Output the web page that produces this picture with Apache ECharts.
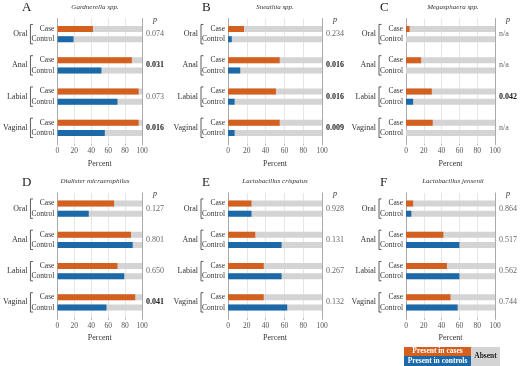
<!DOCTYPE html>
<html>
<head>
<meta charset="utf-8">
<script src="https://cdn.jsdelivr.net/npm/echarts@6/dist/echarts.min.js"></script>
<style>
  html, body { margin: 0; padding: 0; background: #fff; }
  #chart { width: 520px; height: 366px; }
</style>
</head>
<body>
<div id="chart"></div>
<script>
  // 数据
  var sites = ['Oral', 'Anal', 'Labial', 'Vaginal'];
  var letters = ['A', 'B', 'C', 'D', 'E', 'F'];
  var species = ['Gardnerella spp.', 'Sneathia spp.', 'Megasphaera spp.',
    'Dialister micraerophilus', 'Lactobacillus crispatus', 'Lactobacillus jensenii'];
  var caseA = [42, 88, 96, 96], ctrlA = [19, 52, 71, 56];
  var caseB = [17, 55, 51, 55], ctrlB = [4, 13, 7, 7];
  var caseC = [4, 17, 29, 30], ctrlC = [0, 0, 8, 0];
  var caseD = [67, 87, 71, 92], ctrlD = [37, 89, 79, 58];
  var caseE = [25, 29, 38, 38], ctrlE = [25, 57, 57, 63];
  var caseF = [8, 42, 46, 50], ctrlF = [6, 60, 60, 58];
  var pA = ['0.074', '0.031', '0.073', '0.016'];
  var pB = ['0.234', '0.016', '0.016', '0.009'];
  var pC = ['n/a', 'n/a', '0.042', 'n/a'];
  var pD = ['0.127', '0.801', '0.650', '0.041'];
  var pE = ['0.928', '0.131', '0.267', '0.132'];
  var pF = ['0.864', '0.517', '0.562', '0.744'];

  var caseData = [caseA, caseB, caseC, caseD, caseE, caseF];
  var ctrlData = [ctrlA, ctrlB, ctrlC, ctrlD, ctrlE, ctrlF];
  var pData = [pA, pB, pC, pD, pE, pF];

  var ORANGE = '#d4601f', BLUE = '#1b69a8', GRAY = '#d4d4d4';
  var FONT = 'Liberation Serif';
  var lefts = [48, 228, 406], tops = [18.5, 193];

  var grid = [], xAxis = [], yAxis = [], series = [], title = [];

  for (var k = 0; k < 6; k++) {
    var L = lefts[k % 3], T = tops[Math.floor(k / 3)];
    grid.push({ left: L, top: T, width: 94, height: 125 });
    title.push({
      text: letters[k], left: L - 26, top: T - 17, padding: 0,
      textStyle: { fontFamily: FONT, fontSize: 13, fontWeight: 'normal', color: '#222' }
    });
    title.push({
      text: species[k], left: L + 47, top: T - 15, padding: 0, textAlign: 'center',
      textStyle: { fontFamily: FONT, fontSize: 7, fontStyle: 'italic', fontWeight: 'normal', color: '#333' }
    });
    xAxis.push({
      gridIndex: k, type: 'value', min: 0, max: 100, interval: 20,
      name: 'Percent', nameLocation: 'middle', nameGap: 16,
      nameTextStyle: { fontFamily: FONT, fontSize: 8, color: '#333' },
      axisLine: { show: false },
      axisTick: { show: true, length: 2, lineStyle: { color: '#bbb' } },
      axisLabel: { fontFamily: FONT, fontSize: 7.5, color: '#555', margin: 4 },
      splitLine: { lineStyle: { color: '#e6e6e6', width: 1 } }
    });
    // Case / Control 标签
    yAxis.push({
      gridIndex: k, type: 'category', data: sites, inverse: true, position: 'left',
      axisLine: { show: true, lineStyle: { color: '#aaa' } },
      axisTick: { show: false },
      axisLabel: {
        margin: 3, formatter: function () { return '{c|Case}\n{c|Control}'; },
        rich: { c: { fontFamily: FONT, fontSize: 7.5, color: '#333', lineHeight: 10.5, align: 'right' } }
      }
    });
    // 部位标签
    yAxis.push({
      gridIndex: k, type: 'category', data: sites, inverse: true, position: 'left',
      axisLine: { show: false }, axisTick: { show: false },
      axisLabel: { margin: 30, fontFamily: FONT, fontSize: 8, color: '#333' }
    });
    // p 值
    (function (pv) {
      yAxis.push({
        gridIndex: k, type: 'category', data: sites, inverse: true, position: 'right',
        name: 'p', nameLocation: 'start', nameGap: -5,
        nameTextStyle: { fontFamily: FONT, fontSize: 8, fontStyle: 'italic', color: '#333', align: 'left', padding: [0, 0, 0, 11] },
        axisLine: { show: true, lineStyle: { color: '#aaa' } },
        axisTick: { show: false },
        axisLabel: {
          margin: 4,
          formatter: function (v, i) {
            var p = pv[i];
            return (p !== 'n/a' && parseFloat(p) < 0.05) ? '{b|' + p + '}' : '{n|' + p + '}';
          },
          rich: {
            b: { fontFamily: FONT, fontSize: 8, fontWeight: 'bold', color: '#222' },
            n: { fontFamily: FONT, fontSize: 8, color: '#666' }
          }
        }
      });
    })(pData[k]);

    series.push({
      name: 'Present in cases', type: 'bar', xAxisIndex: k, yAxisIndex: k * 3,
      data: caseData[k], barWidth: 6, barGap: '70%',
      itemStyle: { color: ORANGE },
      showBackground: true, backgroundStyle: { color: GRAY }
    });
    series.push({
      name: 'Present in controls', type: 'bar', xAxisIndex: k, yAxisIndex: k * 3,
      data: ctrlData[k], barWidth: 6, barGap: '70%',
      itemStyle: { color: BLUE },
      showBackground: true, backgroundStyle: { color: GRAY }
    });
    // 括号
    series.push({
      type: 'custom', xAxisIndex: k, yAxisIndex: k * 3, clip: false, silent: true,
      data: sites.map(function (s, i) { return [0, i]; }),
      renderItem: function (params, api) {
        var p = api.coord([0, api.value(1)]);
        var band = api.size([0, 1])[1];
        var x = p[0] - 27, h = band * 0.31;
        return {
          type: 'polyline',
          shape: { points: [[x + 2.5, p[1] - h], [x, p[1] - h], [x, p[1] + h], [x + 2.5, p[1] + h]] },
          style: { stroke: '#333', fill: null, lineWidth: 0.8 }
        };
      }
    });
  }

  var myChart = echarts.init(document.getElementById('chart'));
  myChart.setOption({
    backgroundColor: '#fff',
    animation: false,
    title: title,
    grid: grid,
    xAxis: xAxis,
    yAxis: yAxis,
    series: series,
    graphic: [
      { type: 'rect', shape: { x: 404, y: 347, width: 67, height: 9 }, style: { fill: ORANGE } },
      { type: 'rect', shape: { x: 404, y: 356, width: 67, height: 10 }, style: { fill: BLUE } },
      { type: 'rect', shape: { x: 471, y: 347, width: 29, height: 19 }, style: { fill: GRAY } },
      { type: 'text', x: 437.5, y: 351.5, style: { text: 'Present in cases', fill: '#fff', font: 'bold 7.5px "Liberation Serif"', align: 'center', verticalAlign: 'middle' } },
      { type: 'text', x: 437.5, y: 361, style: { text: 'Present in controls', fill: '#fff', font: 'bold 7.5px "Liberation Serif"', align: 'center', verticalAlign: 'middle' } },
      { type: 'text', x: 485.5, y: 356.5, style: { text: 'Absent', fill: '#222', font: 'bold 7.5px "Liberation Serif"', align: 'center', verticalAlign: 'middle' } }
    ]
  });
</script>
</body>
</html>
